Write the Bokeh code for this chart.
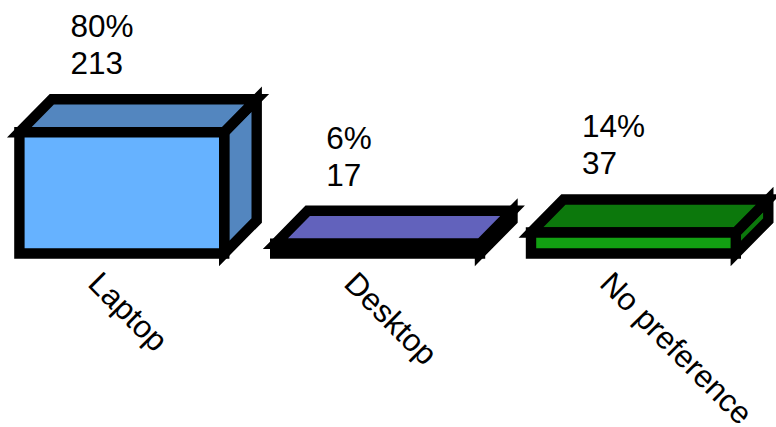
from bokeh.plotting import figure
from bokeh.embed import file_html
from bokeh.resources import INLINE
from bokeh.core.properties import value
from bokeh.models import ColumnDataSource
import numpy as np

categories = ["Laptop", "Desktop", "No preference"]
percents = ["80%", "6%", "14%"]
counts = [213, 17, 37]
front_colors = ["#66B2FF", "#8080FF", "#12A012"]
shade_colors = ["#5386BF", "#6262BC", "#0C780C"]

W, H = 776, 427
PX_X, PX_Y = 255.8, 0.5695
X0, Y0 = 121.3, 253.0

p = figure(width=W, height=H, output_backend="svg", toolbar_location=None,
           x_range=(-X0 / PX_X, (W - X0) / PX_X),
           y_range=(-(H - Y0) / PX_Y, Y0 / PX_Y),
           min_border=0, outline_line_color=None, background_fill_color="white",
           margin=(0, 0, 0, 0))
p.axis.visible = False
p.grid.visible = False

xs = np.arange(len(categories), dtype=float)
v = np.array(counts, dtype=float)
bw = 204.8 / PX_X
dx, dy = 32.5 / PX_X, 33.0 / PX_Y
L, R = xs - bw / 2, xs + bw / 2

style = dict(line_color="black", line_width=10.4, line_join="miter")

side_x = [[r, r + dx, r + dx, r] for r in R]
side_y = [[t, t + dy, dy, 0.0] for t in v]
top_x = [[l, l + dx, r + dx, r] for l, r in zip(L, R)]
top_y = [[t, t + dy, t + dy, t] for t in v]
front_x = [[l, r, r, l] for l, r in zip(L, R)]
front_y = [[0.0, 0.0, t, t] for t in v]

p.patches(side_x, side_y, fill_color=shade_colors, **style)
p.patches(top_x, top_y, fill_color=shade_colors, **style)
p.patches(front_x, front_y, fill_color=front_colors, **style)

font = value("Liberation Sans")
src = ColumnDataSource(dict(x=L, y=v, pct=percents, cnt=[str(c) for c in counts]))
p.text("x", "y", text="pct", source=src, text_font=font, text_font_size="31.5px",
       text_color="black", text_align="left", text_baseline="alphabetic",
       x_offset=51, y_offset=-106)
p.text("x", "y", text="cnt", source=src, text_font=font, text_font_size="31.5px",
       text_color="black", text_align="left", text_baseline="alphabetic",
       x_offset=51, y_offset=-69)

lab = ColumnDataSource(dict(x=L, y=np.zeros(3), t=categories))
p.text("x", "y", text="t", source=lab, text_font=font, text_font_size="31.5px",
       text_color="black", text_align="left", text_baseline="alphabetic",
       angle=-45, angle_units="deg", x_offset=75, y_offset=24)

open("out.html", "w").write(file_html(p, INLINE))
